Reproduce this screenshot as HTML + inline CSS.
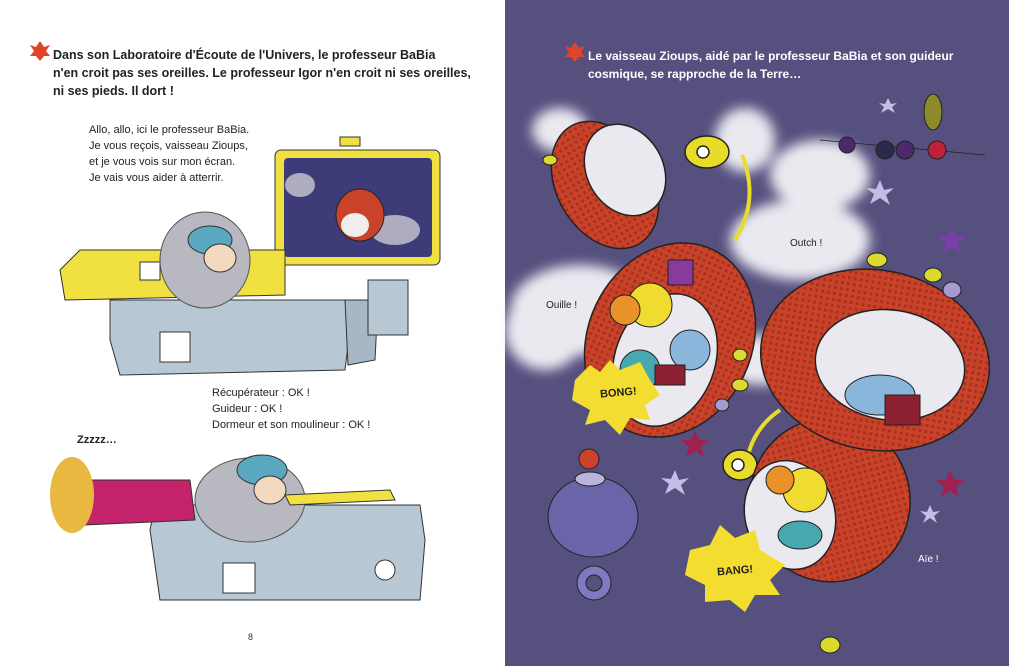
<!DOCTYPE html>
<html><head><meta charset="utf-8"><style>
html,body{margin:0;padding:0;width:1009px;height:666px;overflow:hidden;background:#fff;font-family:"Liberation Sans",sans-serif}
svg{position:absolute;left:0;top:0}
.t{position:absolute;font-size:11.5px;line-height:16px;color:#222;white-space:nowrap}
.b{font-weight:bold}
</style></head><body>
<svg width="1009" height="666" viewBox="0 0 1009 666">
<defs>
<filter id="bl"><feGaussianBlur stdDeviation="6"/></filter>
<pattern id="hp" width="6" height="6" patternUnits="userSpaceOnUse"><rect width="6" height="6" fill="#c9432a"/><rect width="3" height="3" fill="#a8321f"/></pattern>
</defs>
<rect x="505" y="0" width="504" height="666" fill="#56507f"/>
<g fill="#f2f2f6" filter="url(#bl)" opacity="0.95">
<ellipse cx="560" cy="130" rx="28" ry="22"/>
<ellipse cx="745" cy="140" rx="30" ry="32"/>
<ellipse cx="820" cy="175" rx="50" ry="35"/>
<ellipse cx="800" cy="240" rx="70" ry="40"/>
<ellipse cx="580" cy="310" rx="70" ry="45"/>
<ellipse cx="545" cy="330" rx="40" ry="40"/>
<ellipse cx="760" cy="360" rx="40" ry="25"/>
</g>
<g stroke="#222" stroke-width="1.5">
<path d="M742,155 Q760,200 735,240" fill="none" stroke="#e7dc2a" stroke-width="4"/>
<ellipse cx="707" cy="152" rx="22" ry="16" fill="#e7dc2a"/>
<circle cx="703" cy="152" r="6" fill="#fff"/>
<ellipse cx="605" cy="185" rx="48" ry="68" transform="rotate(-30 605 185)" fill="url(#hp)"/>
<ellipse cx="670" cy="340" rx="82" ry="100" transform="rotate(25 670 340)" fill="url(#hp)"/>
<ellipse cx="625" cy="170" rx="38" ry="48" transform="rotate(-30 625 170)" fill="#e9e9ef"/>
<ellipse cx="665" cy="360" rx="50" ry="68" transform="rotate(20 665 360)" fill="#e9e9ef"/>
</g>
<g stroke="#222" stroke-width="1">
<circle cx="650" cy="305" r="22" fill="#f0dc30"/>
<circle cx="625" cy="310" r="15" fill="#e9922a"/>
<circle cx="640" cy="370" r="20" fill="#48a8b0"/>
<circle cx="690" cy="350" r="20" fill="#8ab6dc"/>
<rect x="668" y="260" width="25" height="25" fill="#8a3a9a"/>
<rect x="655" y="365" width="30" height="20" fill="#8a2030"/>
</g>
<g stroke="#222" stroke-width="1.5">
<path d="M780,410 Q750,430 745,470" fill="none" stroke="#e7dc2a" stroke-width="4"/>
<ellipse cx="740" cy="465" rx="17" ry="15" fill="#e7dc2a"/>
<circle cx="738" cy="465" r="6" fill="#fff"/>
<ellipse cx="830" cy="500" rx="80" ry="82" transform="rotate(-15 830 500)" fill="url(#hp)"/>
<ellipse cx="875" cy="360" rx="115" ry="90" transform="rotate(10 875 360)" fill="url(#hp)"/>
<ellipse cx="890" cy="365" rx="75" ry="55" transform="rotate(8 890 365)" fill="#e9e9ef"/>
<ellipse cx="790" cy="515" rx="45" ry="55" transform="rotate(-15 790 515)" fill="#e9e9ef"/>
</g>
<g stroke="#222" stroke-width="1">
<ellipse cx="880" cy="395" rx="35" ry="20" fill="#8ab6dc"/>
<rect x="885" y="395" width="35" height="30" fill="#8a2030"/>
<circle cx="805" cy="490" r="22" fill="#f0dc30"/>
<circle cx="780" cy="480" r="14" fill="#e9922a"/>
<ellipse cx="800" cy="535" rx="22" ry="14" fill="#48a8b0"/>
</g>
<g stroke="#222" fill="#dcd92f">
<ellipse cx="877" cy="260" rx="10" ry="7"/><ellipse cx="933" cy="275" rx="9" ry="7"/><ellipse cx="952" cy="290" rx="9" ry="8" fill="#a59bd0"/>
<ellipse cx="740" cy="355" rx="7" ry="6"/><ellipse cx="740" cy="385" rx="8" ry="6"/><ellipse cx="722" cy="405" rx="7" ry="6" fill="#a59bd0"/>
<ellipse cx="830" cy="645" rx="10" ry="8"/>
</g>
<g stroke="#222">
<line x1="820" y1="140" x2="985" y2="155" stroke-width="0.8"/>
<circle cx="847" cy="145" r="8" fill="#4a2a6a"/><circle cx="885" cy="150" r="9" fill="#2a2a4a"/><circle cx="905" cy="150" r="9" fill="#4a2a6a"/><circle cx="937" cy="150" r="9" fill="#c0203a"/>
<ellipse cx="933" cy="112" rx="9" ry="18" fill="#8e8a2a"/>
<ellipse cx="550" cy="160" rx="7" ry="5" fill="#dcd92f"/>
</g>
<polygon points="575,380 590,365 600,372 610,360 620,370 640,362 650,380 660,395 645,405 650,420 630,418 620,435 605,420 585,425 590,410 572,400" fill="#f2dd30"/>
<polygon points="690,550 710,545 720,525 735,538 755,530 760,550 785,565 770,580 780,595 755,595 745,612 730,600 705,602 705,585 685,575" fill="#f2dd30"/>
<g stroke="#222">
<ellipse cx="593" cy="517" rx="45" ry="40" fill="#6a64a8"/>
<circle cx="594" cy="583" r="17" fill="#8078c0"/><circle cx="594" cy="583" r="8" fill="#56507f"/>
<circle cx="589" cy="459" r="10" fill="#c9432a"/>
<ellipse cx="590" cy="479" rx="15" ry="7" fill="#bab4dc"/>
</g>
<g fill="#c4bde6"><polygon points="880,180 884,190 894,188 886,195 890,205 880,198 870,204 874,194 866,188 876,189"/><polygon points="675,470 679,480 689,478 681,485 685,495 675,488 665,494 669,484 661,478 671,479"/><polygon points="930,505 933,512 940,511 934,516 937,523 930,518 923,523 926,516 920,511 927,512"/><polygon points="888,98 891,104 897,103 892,107 895,113 888,109 881,113 884,107 879,103 885,104"/></g>
<g fill="#a02050"><polygon points="695,430 699,440 709,440 701,447 704,457 695,451 686,457 689,447 681,440 691,440"/><polygon points="950,470 954,480 964,480 956,487 959,497 950,491 941,497 944,487 936,480 946,480"/></g>
<polygon points="952,226 956,236 966,236 958,243 961,253 952,247 943,253 946,243 938,236 948,236" fill="#7a3ea8"/>
<rect x="275" y="150" width="165" height="115" rx="6" fill="#f0e040" stroke="#333"/>
<rect x="284" y="158" width="148" height="99" rx="4" fill="#3e3c78"/>
<ellipse cx="300" cy="185" rx="15" ry="12" fill="#ddd" opacity="0.7"/>
<ellipse cx="395" cy="230" rx="25" ry="15" fill="#ddd" opacity="0.7"/>
<ellipse cx="360" cy="215" rx="24" ry="26" fill="#c9432a" stroke="#222"/>
<ellipse cx="355" cy="225" rx="14" ry="12" fill="#eee"/>
<rect x="340" y="137" width="20" height="9" fill="#f0e040" stroke="#333"/>
<path d="M60,270 L80,250 L285,250 L285,295 L65,300 Z" fill="#f0e040" stroke="#333"/>
<rect x="140" y="262" width="20" height="18" fill="#fff" stroke="#333"/>
<path d="M110,300 L345,300 L350,330 L345,370 L120,375 L110,340 Z" fill="#b7c7d3" stroke="#333"/>
<path d="M345,300 L378,300 L375,360 L348,365 Z" fill="#a7b7c5" stroke="#333"/>
<rect x="160" y="332" width="30" height="30" fill="#fff" stroke="#333"/>
<rect x="368" y="280" width="40" height="55" fill="#b7c7d3" stroke="#333"/>
<ellipse cx="205" cy="260" rx="45" ry="48" fill="#b8b8c0" stroke="#555"/>
<ellipse cx="210" cy="240" rx="22" ry="14" fill="#5aa8c0" stroke="#333"/>
<ellipse cx="220" cy="258" rx="16" ry="14" fill="#f3d9c0" stroke="#333"/>
<path d="M150,530 L155,505 L420,505 L425,540 L420,600 L160,600 Z" fill="#b7c7d3" stroke="#333"/>
<rect x="223" y="563" width="32" height="30" fill="#fff" stroke="#333"/>
<circle cx="385" cy="570" r="10" fill="#fff" stroke="#333"/>
<ellipse cx="250" cy="500" rx="55" ry="42" fill="#b8b8c0" stroke="#555"/>
<ellipse cx="262" cy="470" rx="25" ry="15" fill="#5aa8c0" stroke="#333"/>
<ellipse cx="270" cy="490" rx="16" ry="14" fill="#f3d9c0" stroke="#333"/>
<path d="M80,480 L190,480 L195,520 L85,525 Z" fill="#c4226a" stroke="#333"/>
<ellipse cx="72" cy="495" rx="22" ry="38" fill="#e8b840"/>
<path d="M285,495 L390,490 L395,500 L290,505Z" fill="#f0e040" stroke="#333"/>
<polygon points="36,47 40,41 44,47 50,45 46,51 50,56 44,56 40,61 36,56 30,56 34,51 30,45" fill="#e0442a"/>
<polygon points="571,48 575,42 579,48 585,46 581,52 585,57 579,57 575,62 571,57 565,57 569,52 565,46" fill="#e0442a"/>
<text x="248" y="640" font-size="9" fill="#333" font-family="Liberation Sans">8</text>
</svg>
<div class="t b" style="left:53px;top:46px;font-size:12.5px;line-height:18px">Dans son Laboratoire d'Écoute de l'Univers, le professeur BaBia<br>n'en croit pas ses oreilles. Le professeur Igor n'en croit ni ses oreilles,<br>ni ses pieds. Il dort !</div>
<div class="t" style="left:89px;top:122px;font-size:11px">Allo, allo, ici le professeur BaBia.<br>Je vous reçois, vaisseau Zioups,<br>et je vous vois sur mon écran.<br>Je vais vous aider à atterrir.</div>
<div class="t" style="left:212px;top:385px;font-size:11px">Récupérateur : OK !<br>Guideur : OK !<br>Dormeur et son moulineur : OK !</div>
<div class="t b" style="left:77px;top:432px;font-size:11px">Zzzzz…</div>
<div class="t b" style="left:588px;top:47px;font-size:12px;line-height:18px;color:#fff">Le vaisseau Zioups, aidé par le professeur BaBia et son guideur<br>cosmique, se rapproche de la Terre…</div>
<div class="t" style="left:790px;top:236px;font-size:10px;color:#222">Outch !</div>
<div class="t" style="left:546px;top:298px;font-size:10px;color:#222">Ouille !</div>
<div class="t" style="left:918px;top:552px;font-size:10px;color:#fff">Aïe !</div>
<div class="t b" style="left:600px;top:385px;font-size:11px;transform:rotate(-5deg)">BONG!</div>
<div class="t b" style="left:717px;top:563px;font-size:11px;transform:rotate(-5deg)">BANG!</div>
</body></html>
